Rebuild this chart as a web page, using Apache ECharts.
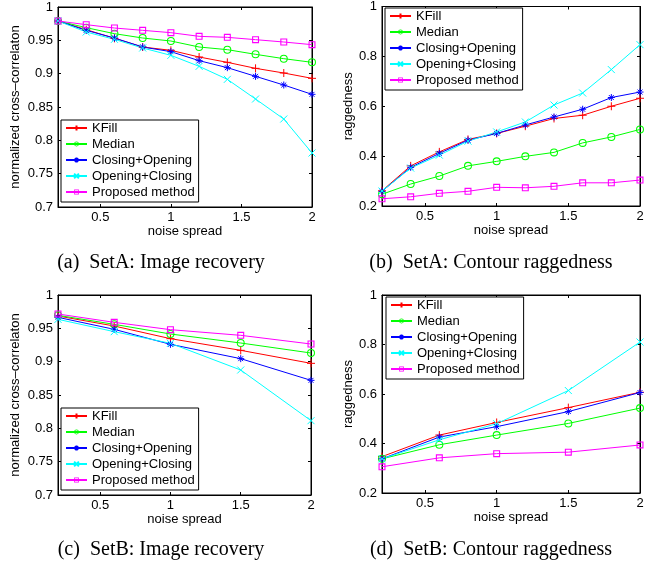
<!DOCTYPE html>
<html><head><meta charset="utf-8">
<script src="https://cdn.jsdelivr.net/npm/echarts@6/dist/echarts.min.js"></script>
<style>html,body{margin:0;padding:0;background:#fff}#c{width:655px;height:565px}</style>
</head><body><div id="c"></div>
<script>
const seriesNames = ['KFill', 'Median', 'Closing+Opening', 'Opening+Closing', 'Proposed method'];
const xSetA = [0.2, 0.4, 0.6, 0.8, 1.0, 1.2, 1.4, 1.6, 1.8, 2.0];
const xSetB = [0.2, 0.6, 1.0, 1.5, 2.0];
const xTicks = [0.5, 1, 1.5, 2];
const captions = ['(a)  SetA: Image recovery', '(b)  SetA: Contour raggedness', '(c)  SetB: Image recovery', '(d)  SetB: Contour raggedness'];
const yNames = ['normalized cross\u2013correlaton', 'raggedness', 'normalized cross\u2013correlaton', 'raggedness'];

// SetA image recovery
const kfillA1 = [0.979, 0.966, 0.953, 0.940, 0.935, 0.925, 0.917, 0.908, 0.901, 0.893];
const medianA1 = [0.979, 0.969, 0.960, 0.9535, 0.949, 0.940, 0.936, 0.929, 0.9225, 0.917];
const cloOpA1 = [0.979, 0.965, 0.9535, 0.940, 0.933, 0.9195, 0.909, 0.896, 0.883, 0.869];
const opCloA1 = [0.979, 0.9625, 0.9515, 0.9385, 0.9275, 0.911, 0.8915, 0.862, 0.832, 0.781];
const propA1 = [0.979, 0.9735, 0.9685, 0.965, 0.9615, 0.956, 0.9545, 0.951, 0.9475, 0.9435];
// SetA contour raggedness
const kfillA2 = [0.261, 0.361, 0.417, 0.467, 0.491, 0.520, 0.551, 0.564, 0.600, 0.632];
const medianA2 = [0.247, 0.288, 0.320, 0.361, 0.379, 0.399, 0.415, 0.453, 0.477, 0.507];
const cloOpA2 = [0.259, 0.355, 0.411, 0.464, 0.491, 0.525, 0.557, 0.588, 0.635, 0.657];
const opCloA2 = [0.260, 0.352, 0.404, 0.460, 0.497, 0.537, 0.605, 0.653, 0.747, 0.847];
const propA2 = [0.229, 0.237, 0.251, 0.259, 0.275, 0.273, 0.279, 0.293, 0.293, 0.304];
// SetB image recovery
const kfillB1 = [0.9685, 0.9535, 0.9345, 0.917, 0.8975];
const medianB1 = [0.9695, 0.956, 0.9415, 0.928, 0.913];
const cloOpB1 = [0.9665, 0.9485, 0.926, 0.9045, 0.872];
const opCloB1 = [0.9635, 0.945, 0.9275, 0.8875, 0.8115];
const propB1 = [0.9715, 0.959, 0.948, 0.9395, 0.9265];
// SetB contour raggedness
const kfillB2 = [0.347, 0.434, 0.485, 0.545, 0.607];
const medianB2 = [0.338, 0.395, 0.434, 0.481, 0.543];
const cloOpB2 = [0.338, 0.426, 0.468, 0.529, 0.606];
const opCloB2 = [0.338, 0.415, 0.480, 0.614, 0.810];
const propB2 = [0.306, 0.342, 0.359, 0.365, 0.394];

const panelData = [
  {x: xSetA, ys: [kfillA1, medianA1, cloOpA1, opCloA1, propA1], yMin: 0.7, yMax: 1, yInt: 0.05},
  {x: xSetA, ys: [kfillA2, medianA2, cloOpA2, opCloA2, propA2], yMin: 0.2, yMax: 1, yInt: 0.2},
  {x: xSetB, ys: [kfillB1, medianB1, cloOpB1, opCloB1, propB1], yMin: 0.7, yMax: 1, yInt: 0.05},
  {x: xSetB, ys: [kfillB2, medianB2, cloOpB2, opCloB2, propB2], yMin: 0.2, yMax: 1, yInt: 0.2}
];

// layout
const grids = [
  {left: 58, top: 7, width: 254, height: 200},
  {left: 382, top: 6, width: 258, height: 200},
  {left: 58, top: 295, width: 253, height: 200},
  {left: 382, top: 295, width: 258, height: 198}
];
const legendPos = [{left: 61, top: 120}, {left: 385, top: 8}, {left: 61, top: 408}, {left: 386, top: 297}];
const yNameGap = [36, 23, 36, 23];
const captionPos = [{x: 161, y: 263}, {x: 491, y: 263}, {x: 161, y: 550}, {x: 491, y: 550}];

const colors = ['#ff0000', '#00ff00', '#0000ff', '#00ffff', '#ff00ff'];
const symbols = [
  'path://M5 0L5 10M0 5L10 5',
  'path://M5 0A5 5 0 1 1 5 10A5 5 0 1 1 5 0Z M5 1.3A3.7 3.7 0 1 0 5 8.7A3.7 3.7 0 1 0 5 1.3Z',
  'path://M5 0L5 10M0 5L10 5M1.5 1.5L8.5 8.5M8.5 1.5L1.5 8.5',
  'path://M0 0L10 10M10 0L0 10',
  'path://M0 0L10 0L10 10L0 10Z M1.6 1.6L1.6 8.4L8.4 8.4L8.4 1.6Z'
];
const symSizes = [8, 8, 7, 7, 7];
const strokeSym = [true, false, true, true, false];
const FONT = 'Liberation Sans, Arial, Helvetica, sans-serif';

const xAxes = [], yAxes = [], series = [], legends = [], graphics = [];
panelData.forEach((p, i) => {
  const common = {gridIndex: i, type: 'value', min: 0.2, max: 2,
    axisLine: {show: true, lineStyle: {color: '#000', width: 1}},
    axisTick: {show: true, inside: true, length: 3, customValues: xTicks, lineStyle: {color: '#000'}},
    splitLine: {show: false}};
  xAxes.push(Object.assign({}, common, {position: 'bottom',
    axisLabel: {show: true, customValues: xTicks, color: '#000', fontSize: 13, fontFamily: FONT, margin: 4},
    name: 'noise spread', nameLocation: 'middle', nameGap: 15,
    nameTextStyle: {color: '#000', fontSize: 13, fontFamily: FONT}}));
  xAxes.push(Object.assign({}, common, {position: 'top', axisLabel: {show: false}}));
  const yc = {gridIndex: i, type: 'value', min: p.yMin, max: p.yMax, interval: p.yInt,
    axisLine: {show: true, lineStyle: {color: '#000', width: 1}},
    axisTick: {show: true, inside: true, length: 3, lineStyle: {color: '#000'}},
    splitLine: {show: false}};
  yAxes.push(Object.assign({}, yc, {position: 'left',
    axisLabel: {show: true, color: '#000', fontSize: 13, fontFamily: FONT, margin: 5,
      formatter: v => String(Math.round(v * 100) / 100)},
    name: yNames[i], nameLocation: 'middle', nameGap: yNameGap[i],
    nameTextStyle: {color: '#000', fontSize: 13, fontFamily: FONT}}));
  yAxes.push(Object.assign({}, yc, {position: 'right', axisLabel: {show: false}}));
  p.ys.forEach((ys, k) => {
    series.push({
      type: 'line', name: seriesNames[k], xAxisIndex: 2 * i, yAxisIndex: 2 * i,
      data: p.x.map((xv, j) => [xv, ys[j]]),
      symbol: symbols[k], symbolSize: symSizes[k], showAllSymbol: true,
      lineStyle: {color: colors[k], width: 1},
      itemStyle: strokeSym[k] ? {color: colors[k], borderColor: colors[k], borderWidth: 1}
                              : {color: colors[k], borderWidth: 0},
      emphasis: {disabled: true}, animation: false, z: 2 + (k === 4 ? 1 : 0)
    });
  });
  legends.push({
    show: true, orient: 'vertical', left: legendPos[i].left, top: legendPos[i].top,
    data: seriesNames, padding: [0, 4, 2, 4], itemGap: 0, itemWidth: 21, itemHeight: 6,
    borderColor: '#000', borderWidth: 1, backgroundColor: '#fff', borderRadius: 0,
    textStyle: {color: '#000', fontSize: 13, fontFamily: FONT, lineHeight: 16},
    selectedMode: false
  });
  graphics.push({type: 'text', x: captionPos[i].x, y: captionPos[i].y,
    style: {text: captions[i], fill: '#000', font: '20px "Liberation Serif", "Times New Roman", serif',
      textAlign: 'center', textVerticalAlign: 'middle'}});
});

const chart = echarts.init(document.getElementById('c'), null, {renderer: 'canvas'});
chart.setOption({
  animation: false,
  backgroundColor: '#fff',
  grid: grids.map(g => Object.assign({show: true, borderColor: '#000', borderWidth: 1, backgroundColor: 'transparent', containLabel: false}, g)),
  xAxis: xAxes, yAxis: yAxes, series: series, legend: legends, graphic: graphics
});
</script></body></html>
